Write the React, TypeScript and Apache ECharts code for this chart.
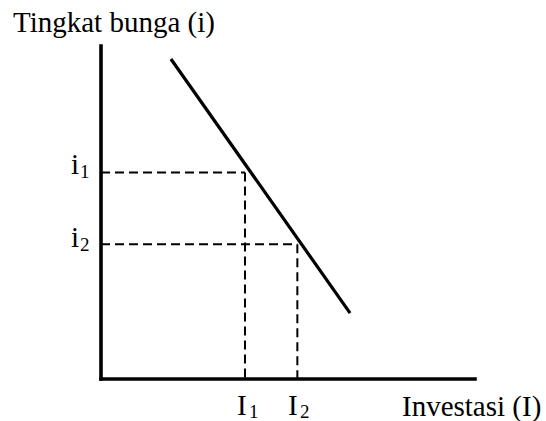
import React, { useEffect, useRef } from "react";
import * as echarts from "echarts";

// Demand (investment) curve endpoints, in axis units (0..100)
const demandX = [18.7, 66.6];
const demandY = [96.1, 19.8];
// Reference levels
const investLevels = [38.5, 52.5]; // I1, I2
const rateLevels = [62.0, 40.5]; // i1, i2
const yAxisTitle = "Tingkat bunga (i)";
const xAxisTitle = "Investasi (I)";
const rateLabels = ["1", "2"];
const investLabels = ["1", "2"];

const FONT = '"Liberation Serif", "Times New Roman", serif';

export default function App() {
  const ref = useRef<HTMLDivElement>(null);

  useEffect(() => {
    if (!ref.current) return;
    document.body.style.margin = "0";
    const chart = echarts.init(ref.current, null, { renderer: "svg" });

    const dashStyle = { color: "#000", width: 2, type: [9, 5] as any };
    const series: any[] = [];
    for (let k = 0; k < investLevels.length; k++) {
      series.push({
        type: "line",
        data: [
          [0, rateLevels[k]],
          [investLevels[k], rateLevels[k]],
        ],
        symbol: "none",
        lineStyle: dashStyle,
        silent: true,
        z: 1,
      });
      series.push({
        type: "line",
        data: [
          [investLevels[k], rateLevels[k]],
          [investLevels[k], 0],
        ],
        symbol: "none",
        lineStyle: dashStyle,
        silent: true,
        z: 1,
      });
    }
    series.push({
      type: "line",
      data: demandX.map((x, i) => [x, demandY[i]]),
      symbol: "none",
      lineStyle: { color: "#000", width: 3.2 },
      silent: true,
      z: 3,
    });

    const main = 29;
    const sub = 19;
    // y given as top of the text box
    const txt = (text: string, x: number, y: number, size: number) => ({
      type: "text",
      x,
      y,
      style: {
        text,
        fill: "#000",
        font: `${size}px ${FONT}`,
        verticalAlign: "top",
        align: "left",
      },
      silent: true,
    });

    const graphic: any[] = [
      txt(yAxisTitle, 13, 7, main),
      txt(xAxisTitle, 402, 391, main),
      txt("i", 71, 149, main),
      txt(rateLabels[0], 80, 162, sub),
      txt("i", 71, 222, main),
      txt(rateLabels[1], 80, 235, sub),
      txt("I", 237, 390, main),
      txt(investLabels[0], 249, 402, sub),
      txt("I", 288, 390, main),
      txt(investLabels[1], 300, 402, sub),
    ];

    chart.setOption({
      animation: false,
      backgroundColor: "#fff",
      grid: { left: 101, right: 71, top: 46, bottom: 42, containLabel: false },
      xAxis: {
        type: "value",
        min: 0,
        max: 100,
        axisLine: { show: true, onZero: false, lineStyle: { color: "#000", width: 3.6, cap: "square" } },
        axisTick: { show: false },
        axisLabel: { show: false },
        splitLine: { show: false },
      },
      yAxis: {
        type: "value",
        min: 0,
        max: 100,
        axisLine: { show: true, onZero: false, lineStyle: { color: "#000", width: 3.6, cap: "square" } },
        axisTick: { show: false },
        axisLabel: { show: false },
        splitLine: { show: false },
      },
      series,
      graphic,
    });

    return () => chart.dispose();
  }, []);

  return (
    <div
      ref={ref}
      style={{ position: "fixed", left: 0, top: 0, width: 546, height: 421, background: "#fff" }}
    />
  );
}
